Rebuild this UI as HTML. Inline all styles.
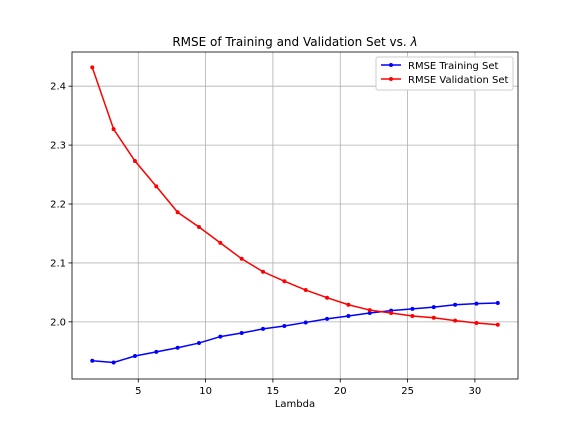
<!DOCTYPE html>
<html><head><meta charset="utf-8"><style>
body{margin:0;background:#fff;font-family:"Liberation Sans","DejaVu Sans",sans-serif}
svg text{font-family:"DejaVu Sans","Liberation Sans",sans-serif}
</style></head><body>
<svg id="chart" width="576" height="432" xmlns="http://www.w3.org/2000/svg"></svg>
<script>
const lambdas=[1.585,3.17,4.755,6.34,7.925,9.51,11.095,12.68,14.265,15.85,17.435,19.02,20.605,22.19,23.775,25.36,26.945,28.53,30.115,31.7];
const trainRmse=[1.934,1.931,1.942,1.949,1.956,1.964,1.975,1.981,1.988,1.993,1.999,2.005,2.010,2.015,2.019,2.022,2.025,2.029,2.031,2.032];
const validRmse=[2.432,2.327,2.273,2.230,2.186,2.161,2.134,2.107,2.085,2.069,2.054,2.041,2.029,2.020,2.015,2.010,2.007,2.002,1.998,1.995];
const xTicks=[5,10,15,20,25,30];
const yTicks=[2.0,2.1,2.2,2.3,2.4];
const L=72,R=518,T=52,B=379,xmin=0.08,xmax=33.2,ymin=1.903,ymax=2.458;
const sx=v=>L+(v-xmin)/(xmax-xmin)*(R-L);
const sy=v=>B-(v-ymin)/(ymax-ymin)*(B-T);
const svg=document.getElementById('chart');
const NS='http://www.w3.org/2000/svg';
function mk(t,a,p){const e=document.createElementNS(NS,t);for(const k in a)e.setAttribute(k,a[k]);(p||svg).appendChild(e);return e;}
let e;
e=mk('text',{x:295,y:46,'font-size':12,'text-anchor':'middle'});e.textContent='RMSE of Training and Validation Set vs. ';


const lt=mk('tspan',{'font-style':'italic'},e);lt.textContent='λ';
xTicks.forEach(v=>{const x=sx(v);
e=mk('line',{x1:x,x2:x,y1:T,y2:B,stroke:'#b0b0b0','stroke-width':0.8});


mk('line',{x1:x,x2:x,y1:B,y2:B+3.5,stroke:'#000','stroke-width':0.8});
e=mk('text',{x:x,y:B+15,'font-size':10,'text-anchor':'middle'});e.textContent=v;

});
yTicks.forEach(v=>{const y=sy(v);
e=mk('line',{x1:L,x2:R,y1:y,y2:y,stroke:'#b0b0b0','stroke-width':0.8});


mk('line',{x1:L-3.5,x2:L,y1:y,y2:y,stroke:'#000','stroke-width':0.8});
e=mk('text',{x:L-6,y:y+3.5,'font-size':10,'text-anchor':'end'});e.textContent=v.toFixed(1);

});
e=mk('rect',{x:L,y:T,width:R-L,height:B-T,fill:'none',stroke:'#000','stroke-width':0.8});


e=mk('text',{x:(L+R)/2,y:407,'font-size':10,'text-anchor':'middle'});e.textContent='Lambda';


function series(vals,color,name){
const pts=lambdas.map((l,i)=>sx(l)+','+sy(vals[i])).join(' ');
e=mk('polyline',{points:pts,fill:'none',stroke:color,'stroke-width':1.5});


lambdas.forEach((l,i)=>{e=mk('circle',{cx:sx(l),cy:sy(vals[i]),r:2,fill:color});

});}
series(trainRmse,'#0000ff','training');
series(validRmse,'#ff0000','validation');
const lg=mk('g',{});


mk('rect',{x:376,y:57,width:137,height:33,fill:'#fff',stroke:'#ccc',rx:2},lg);
[['RMSE Training Set','#0000ff',69],['RMSE Validation Set','#ff0000',83]].forEach(([t,c,y])=>{
mk('line',{x1:381,x2:401,y1:y-4,y2:y-4,stroke:c,'stroke-width':1.5},lg);
mk('circle',{cx:391,cy:y-4,r:2,fill:c},lg);
e=mk('text',{x:408,y:y,'font-size':10},lg);e.textContent=t;

});
</script>
</body></html>
